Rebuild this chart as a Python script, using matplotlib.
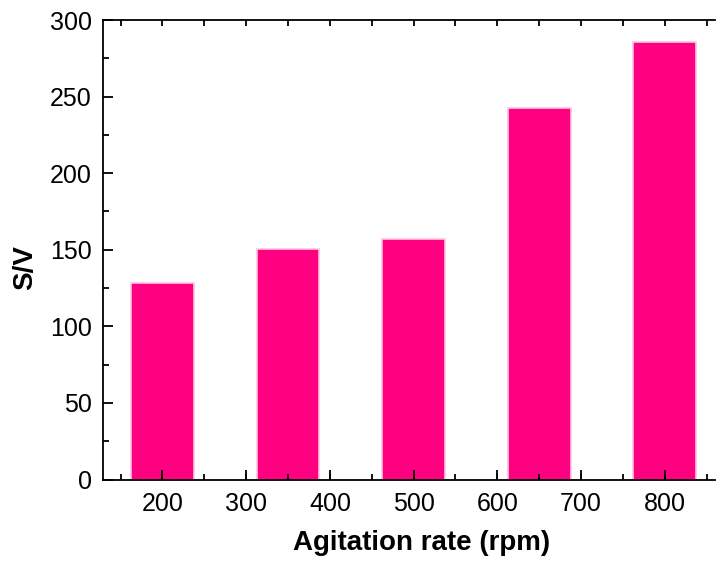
import matplotlib
matplotlib.use('Agg')
import matplotlib.pyplot as plt
from matplotlib.ticker import MultipleLocator

# data
rates = [200, 350, 500, 650, 800]
sv = [128, 150.3, 157.2, 242.6, 285.8]

plt.rcParams['font.family'] = ['Liberation Sans', 'DejaVu Sans']

fig = plt.figure(figsize=(7.17, 5.67), dpi=100)
ax = fig.add_axes([103 / 717, 1 - 479.5 / 567, 612 / 717, 459.5 / 567])

ax.bar(rates, sv, width=75, color='#FF0080', edgecolor='#FFC4E2', linewidth=1.2)

ax.set_xlim(129, 860)
ax.set_ylim(0, 300)
ax.xaxis.set_major_locator(MultipleLocator(100))
ax.xaxis.set_minor_locator(MultipleLocator(50))
ax.xaxis.remove_overlapping_locs = False  # top axis gets a small tick every 50
ax.yaxis.set_major_locator(MultipleLocator(50))
ax.yaxis.set_minor_locator(MultipleLocator(25))

ax.spines['right'].set_visible(False)
for s in ['left', 'top', 'bottom']:
    ax.spines[s].set_linewidth(1.3)

ax.tick_params(which='both', direction='in', top=True, right=False, width=1.3, labelsize=18, pad=8)
ax.tick_params(which='major', length=7)
ax.tick_params(which='minor', length=4)
ax.tick_params(axis='x', which='major', top=False, pad=9)
ax.tick_params(axis='x', which='minor', top=True)

ax.set_xlabel('Agitation rate (rpm)', fontsize=20, fontweight='bold', va='center')
ax.set_ylabel('S/V', fontsize=20, fontweight='bold', va='center')
ax.xaxis.set_label_coords(0.52, -0.138)
ax.yaxis.set_label_coords(-0.127, 0.462)

plt.savefig('out.png', dpi=100)
plt.close()
